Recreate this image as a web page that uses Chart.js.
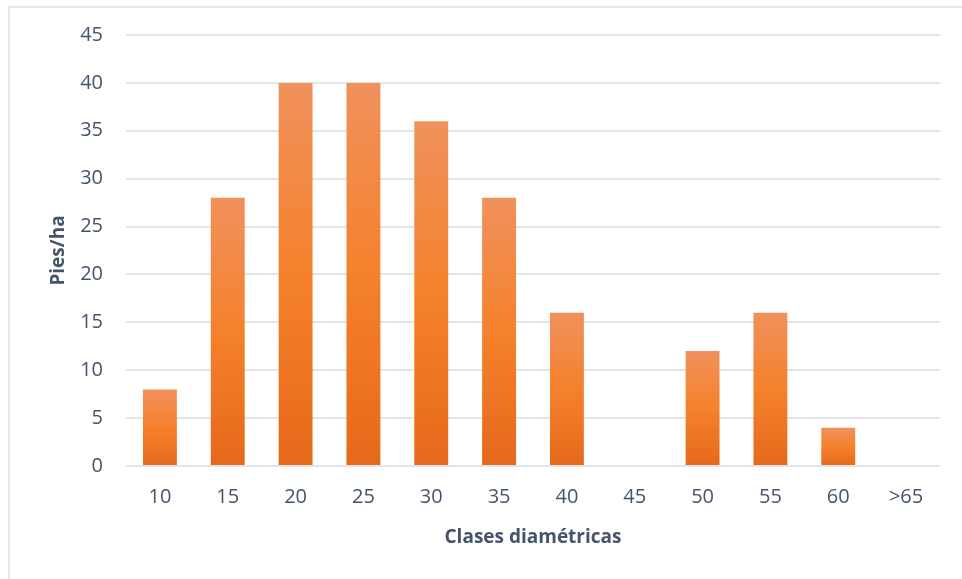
<!DOCTYPE html>
<html>
<head>
<meta charset="utf-8">
<script src="https://cdn.jsdelivr.net/npm/chart.js@4/dist/chart.umd.min.js"></script>
<style>
  html, body { margin: 0; padding: 0; background: #fff; }
  #wrap { position: relative; width: 962px; height: 579px; overflow: hidden; }
  #frame { position: absolute; left: 8px; top: 6px; width: 1000px; height: 600px;
           border-top: 2px solid #E3E7EC; border-left: 2px solid #E3E7EC; box-sizing: border-box; }
  canvas { position: absolute; left: 0; top: 0; }
</style>
</head>
<body>
<div id="wrap">
  <div id="frame"></div>
  <canvas id="c" width="962" height="579"></canvas>
</div>
<script>
const categories = ['10', '15', '20', '25', '30', '35', '40', '45', '50', '55', '60', '>65'];
const piesHa = [8, 28, 40, 40, 36, 28, 16, 0, 12, 16, 4, 0];
const yTickValues = [0, 5, 10, 15, 20, 25, 30, 35, 40, 45];
const xTitle = 'Clases diamétricas';
const yTitle = 'Pies/ha';

const FONT = '"Open Sans", Lato, sans-serif';
const TEXT = '#44546A';

function barGradient(ctx) {
  const chart = ctx.chart;
  if (!chart.chartArea || ctx.type !== 'data') return '#F27F2E';
  const ys = chart.scales.y;
  const top = ys.getPixelForValue(ctx.raw);
  const bot = ys.getPixelForValue(0);
  if (!(bot - top > 1)) return '#F27F2E';
  const g = chart.ctx.createLinearGradient(0, top, 0, bot);
  g.addColorStop(0, '#F0915C');
  g.addColorStop(0.5, '#F5812C');
  g.addColorStop(1, '#E5691B');
  return g;
}

new Chart(document.getElementById('c'), {
  type: 'bar',
  data: {
    labels: categories,
    datasets: [{
      data: piesHa,
      backgroundColor: barGradient,
      borderWidth: 0,
      barPercentage: 0.5,
      categoryPercentage: 1.0
    }]
  },
  options: {
    responsive: false,
    animation: false,
    layout: { padding: { left: 0, right: 22, top: 26, bottom: 0 } },
    plugins: { legend: { display: false }, tooltip: { enabled: false } },
    scales: {
      x: {
        grid: { display: false, drawTicks: false },
        border: { display: false },
        ticks: { color: TEXT, font: { family: FONT, size: 20 }, padding: 19, maxRotation: 0 },
        title: { display: true, text: xTitle, color: TEXT, font: { family: FONT, size: 19, weight: 'bold' }, padding: { top: 0, bottom: 30 } },
        afterFit: (s) => { s.height = 113; }
      },
      y: {
        min: 0, max: 45,
        afterBuildTicks: (s) => { s.ticks = yTickValues.map(v => ({ value: v })); },
        grid: { color: '#E1E4E9', lineWidth: 2, drawTicks: false },
        border: { display: false },
        ticks: { color: TEXT, font: { family: FONT, size: 20 }, padding: 23 },
        title: { display: true, text: yTitle, color: TEXT, font: { family: FONT, size: 19, weight: 'bold' }, padding: { top: 47, bottom: 0 } },
        afterFit: (s) => { s.width = 126; }
      }
    }
  }
});
</script>
</body>
</html>
